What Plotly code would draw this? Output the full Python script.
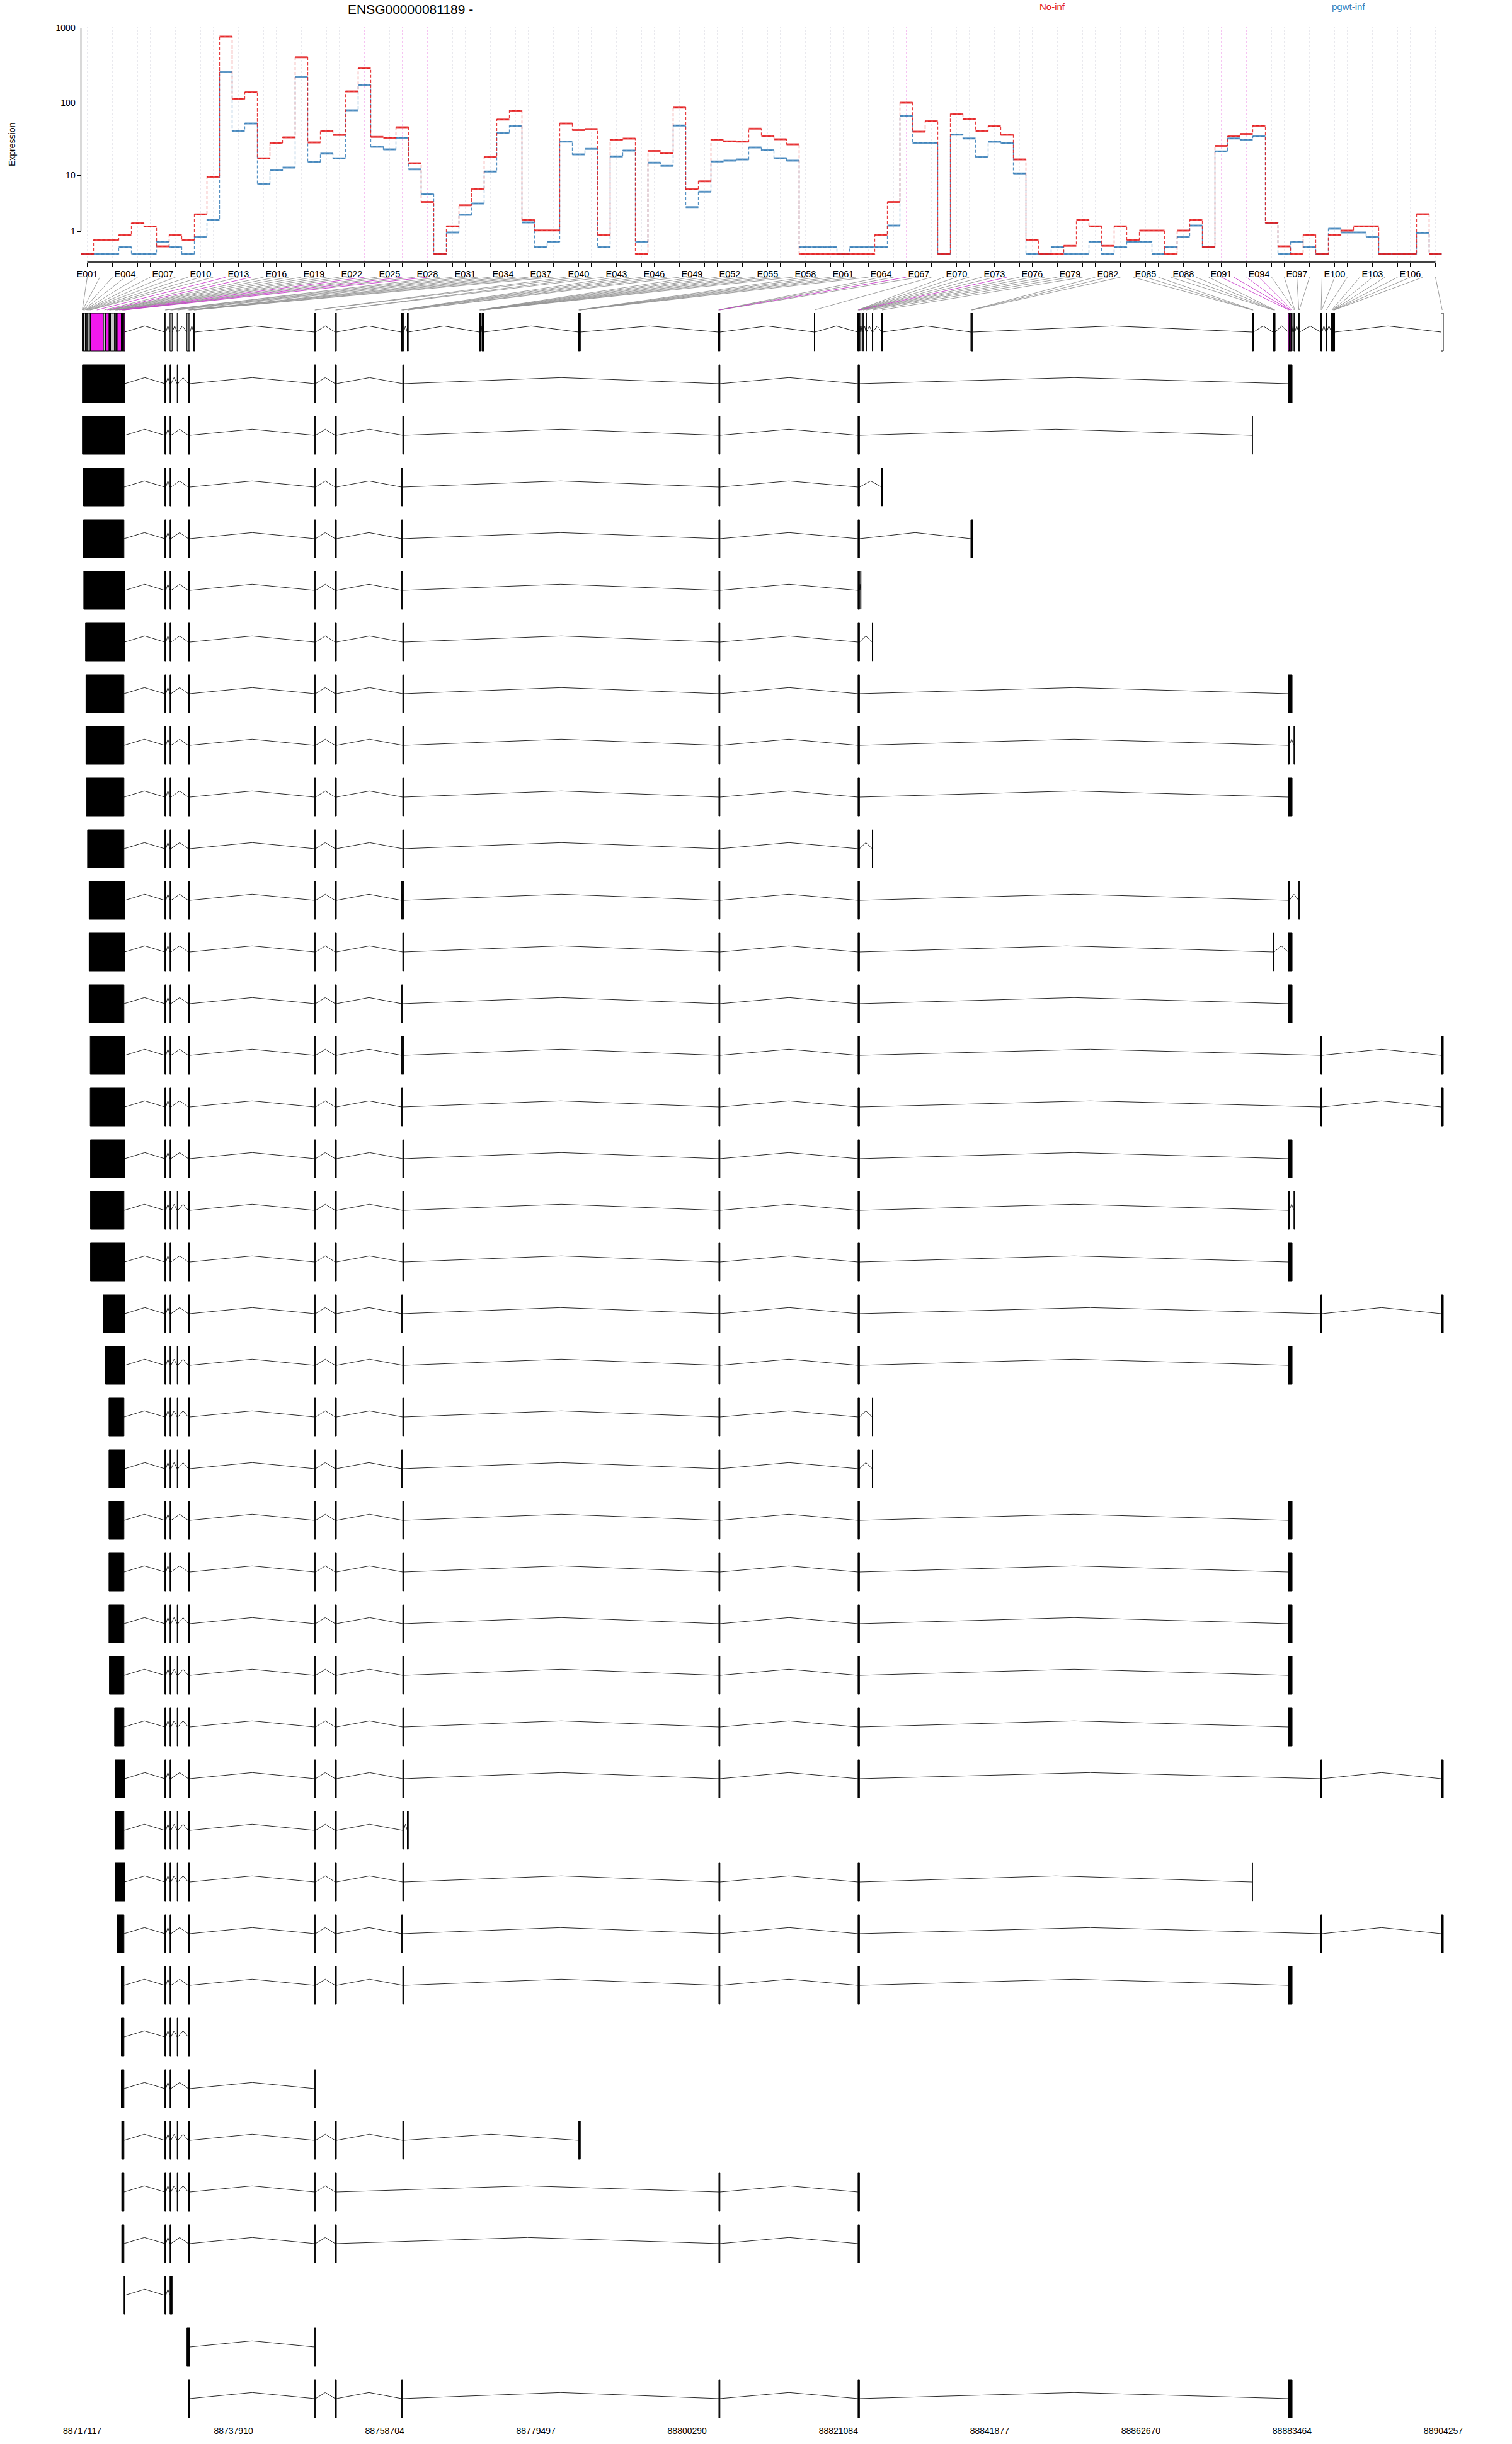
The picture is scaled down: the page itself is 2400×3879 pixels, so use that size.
import numpy as np
import plotly.graph_objects as go

# ---------------- data ----------------
gene_id = "ENSG00000081189"
strand = "-"
conditions = ["No-inf", "pgwt-inf"]
condition_colors = ["#E41A1C", "#377EB8"]

exon_ids = ["E%03d" % i for i in range(1, 109)]

bin_start = [
    88717117, 88717134, 88717204, 88717290, 88717325, 88717567, 88717628, 88717689, 88717845, 88718061,
    88718217, 88718252, 88720010, 88720322, 88720790, 88720850, 88720928, 88721015, 88721561, 88721621,
    88721751, 88721838, 88721924, 88722487, 88722548, 88722661, 88722730, 88722860, 88728473, 88728525,
    88729183, 88729322, 88730171, 88731513, 88731704, 88731903, 88732440, 88732492, 88749054, 88749123,
    88751895, 88751982, 88760973, 88761025, 88761146, 88761181, 88761813, 88761882, 88771714, 88771766,
    88771818, 88771870, 88772077, 88772129, 88772181, 88772233, 88772285, 88785348, 88785391, 88785434,
    88785478, 88785521, 88785564, 88804577, 88804612, 88804646, 88804768, 88817769, 88823755, 88823781,
    88823816, 88823850, 88823885, 88823920, 88823954, 88824127, 88824448, 88824881, 88825738, 88827037,
    88839295, 88839381, 88839468, 88877970, 88878039, 88878100, 88880829, 88880915, 88881002, 88881089,
    88882951, 88883081, 88883211, 88883341, 88883713, 88883800, 88884363, 88884424, 88887411, 88887498,
    88888105, 88888885, 88888972, 88889059, 88889145, 88889188, 88889232, 88903956,
]
bin_end = [
    88717134, 88717204, 88717290, 88717325, 88717567, 88717628, 88717689, 88717845, 88718061, 88718217,
    88718252, 88720010, 88720322, 88720790, 88720850, 88720928, 88721015, 88721561, 88721621, 88721751,
    88721838, 88721924, 88722487, 88722548, 88722661, 88722730, 88722860, 88722964, 88728525, 88728611,
    88729322, 88729486, 88730266, 88731704, 88731903, 88731929, 88732492, 88732561, 88749123, 88749192,
    88751982, 88752068, 88761025, 88761146, 88761181, 88761302, 88761882, 88761960, 88771766, 88771818,
    88771870, 88771922, 88772129, 88772181, 88772233, 88772285, 88772337, 88785391, 88785434, 88785478,
    88785521, 88785564, 88785608, 88804612, 88804646, 88804768, 88804802, 88817856, 88823781, 88823816,
    88823850, 88823885, 88823920, 88823954, 88823989, 88824197, 88824517, 88824950, 88825825, 88827124,
    88839381, 88839468, 88839555, 88878039, 88878100, 88878143, 88880915, 88881002, 88881089, 88881132,
    88883081, 88883211, 88883341, 88883471, 88883800, 88883843, 88884424, 88884493, 88887498, 88887568,
    88888192, 88888972, 88889059, 88889145, 88889188, 88889232, 88889318, 88904257,
]

no_inf = [
    0, 0.53, 0.53, 0.78, 1.55, 1.31, 0.26, 0.78, 0.53, 2.35,
    9.6, 770, 114, 139, 17.6, 28.7, 34.3, 410, 29.3, 42,
    37, 143, 290, 34.8, 34, 47, 15, 3.9, 0, 1.32,
    3.44, 6.3, 18.4, 60, 79, 1.83, 1.05, 1.05, 53, 43,
    44.7, 0.78, 31.9, 33, 0, 22.4, 20.7, 87, 6.2, 8.2,
    32.1, 30.3, 30, 45, 35.7, 32.3, 27.6, 0, 0, 0,
    0, 0, 0, 0.79, 3.9, 101, 41, 57, 0, 71,
    60.8, 42, 48.7, 37.2, 17, 0.54, 0, 0, 0.28, 1.83,
    1.32, 0.28, 1.32, 0.53, 1.04, 1.04, 0, 1.04, 1.83, 0.23,
    26.3, 35.3, 38.2, 49.3, 1.59, 0.26, 0, 0.79, 0, 0.79,
    1.04, 1.32, 1.32, 0, 0, 0, 2.37, 0,
]
pgwt_inf = [
    0, 0, 0, 0.23, 0, 0, 0.45, 0.23, 0, 0.68,
    1.83, 258, 42, 53, 7.5, 11.9, 13, 222, 15.7, 20.5,
    17.6, 80, 174, 25.5, 23.5, 34, 12.3, 5.2, 0, 0.93,
    2.3, 3.67, 11.4, 39.4, 49, 1.62, 0.23, 0.45, 30, 20,
    23.8, 0.23, 18.7, 22.6, 0.45, 15.3, 13.8, 49.6, 3.19, 5.7,
    15.9, 16.3, 17, 25, 22.9, 17.7, 16.3, 0.23, 0.23, 0.23,
    0, 0.23, 0.23, 0.23, 1.38, 67, 29, 29, 0, 37.4,
    33.2, 18.4, 29.9, 28.7, 10.7, 0, 0, 0.23, 0, 0,
    0.45, 0, 0.23, 0.45, 0.45, 0, 0.23, 0.68, 1.38, 0.23,
    22, 33.2, 32, 35.5, 1.59, 0, 0.45, 0.23, 0, 1.16,
    0.93, 0.93, 0.68, 0, 0, 0, 0.91, 0,
]

significant = ["E012", "E014", "E023", "E026", "E028", "E066", "E074",
               "E091", "E092", "E093", "E094"]

# transcript models: exons given as (first bin, last bin), 1-based bin numbers
transcripts = [
    [(2, 28), (29, 30), (31, 31), (33, 33), (35, 35), (39, 40), (41, 42), (46, 46), (66, 67), (70, 75), (91, 94)],
    [(2, 28), (29, 30), (31, 31), (35, 35), (39, 40), (41, 42), (46, 46), (66, 67), (70, 75), (84, 84)],
    [(4, 27), (29, 30), (31, 31), (35, 35), (39, 40), (41, 42), (44, 44), (66, 67), (70, 75), (80, 80)],
    [(4, 27), (29, 30), (31, 31), (35, 35), (39, 40), (41, 42), (44, 44), (66, 67), (70, 75), (81, 83)],
    [(5, 28), (29, 30), (31, 31), (35, 35), (39, 40), (41, 42), (44, 44), (66, 67), (70, 75), (76, 76)],
    [(6, 28), (29, 30), (31, 31), (35, 35), (39, 40), (41, 42), (46, 46), (66, 67), (70, 75), (79, 79)],
    [(7, 27), (29, 30), (31, 31), (35, 35), (39, 40), (41, 42), (46, 46), (66, 67), (70, 75), (91, 94)],
    [(7, 27), (29, 30), (31, 31), (35, 35), (39, 40), (41, 42), (46, 46), (66, 67), (70, 75), (91, 91), (95, 95)],
    [(8, 27), (29, 30), (31, 31), (35, 35), (39, 40), (41, 42), (46, 46), (66, 67), (70, 75), (91, 94)],
    [(9, 27), (29, 30), (31, 31), (35, 35), (39, 40), (41, 42), (46, 46), (66, 67), (70, 75), (79, 79)],
    [(10, 28), (29, 30), (31, 31), (35, 35), (39, 40), (41, 42), (44, 44), (46, 46), (66, 67), (70, 75), (91, 91), (97, 98)],
    [(10, 28), (29, 30), (31, 31), (35, 35), (39, 40), (41, 42), (46, 46), (66, 67), (70, 75), (88, 88), (91, 94)],
    [(10, 27), (29, 30), (31, 31), (35, 35), (39, 40), (41, 42), (44, 44), (66, 67), (70, 75), (91, 94)],
    [(11, 28), (29, 30), (31, 31), (35, 35), (39, 40), (41, 42), (44, 44), (46, 46), (66, 67), (70, 75), (99, 100), (108, 108)],
    [(11, 28), (29, 30), (31, 31), (35, 35), (39, 40), (41, 42), (44, 44), (66, 67), (70, 75), (99, 100), (108, 108)],
    [(12, 28), (29, 30), (31, 31), (35, 35), (39, 40), (41, 42), (46, 46), (66, 67), (70, 75), (91, 94)],
    [(12, 27), (29, 30), (31, 31), (33, 33), (35, 35), (39, 40), (41, 42), (46, 46), (66, 67), (70, 75), (91, 91), (95, 95)],
    [(12, 28), (29, 30), (31, 31), (35, 35), (39, 40), (41, 42), (46, 46), (66, 67), (70, 75), (91, 94)],
    [(13, 28), (29, 30), (31, 31), (35, 35), (39, 40), (41, 42), (44, 44), (66, 67), (70, 75), (99, 100), (108, 108)],
    [(14, 28), (29, 30), (31, 31), (33, 33), (35, 35), (39, 40), (41, 42), (46, 46), (66, 67), (70, 75), (91, 94)],
    [(15, 27), (29, 30), (31, 31), (33, 33), (35, 35), (39, 40), (41, 42), (46, 46), (66, 67), (70, 75), (79, 79)],
    [(15, 28), (29, 30), (31, 31), (33, 33), (35, 35), (39, 40), (41, 42), (44, 44), (66, 67), (70, 75), (79, 79)],
    [(15, 27), (29, 30), (31, 31), (35, 35), (39, 40), (41, 42), (46, 46), (66, 67), (70, 75), (91, 94)],
    [(15, 27), (29, 30), (31, 31), (35, 35), (39, 40), (41, 42), (46, 46), (66, 67), (70, 75), (91, 94)],
    [(15, 27), (29, 30), (31, 31), (33, 33), (35, 35), (39, 40), (41, 42), (46, 46), (66, 67), (70, 75), (91, 94)],
    [(16, 27), (29, 30), (31, 31), (33, 33), (35, 35), (39, 40), (41, 42), (46, 46), (66, 67), (70, 75), (91, 94)],
    [(19, 27), (29, 30), (31, 31), (33, 33), (35, 35), (39, 40), (41, 42), (46, 46), (66, 67), (70, 75), (91, 94)],
    [(20, 28), (29, 30), (31, 31), (35, 35), (39, 40), (41, 42), (46, 46), (66, 67), (70, 75), (99, 100), (108, 108)],
    [(20, 27), (29, 30), (31, 31), (33, 33), (35, 35), (39, 40), (41, 42), (46, 46), (47, 48)],
    [(20, 28), (29, 30), (31, 31), (33, 33), (35, 35), (39, 40), (41, 42), (46, 46), (66, 67), (70, 75), (84, 84)],
    [(23, 27), (29, 30), (31, 31), (35, 35), (39, 40), (41, 42), (44, 44), (66, 67), (70, 75), (99, 100), (108, 108)],
    [(24, 27), (29, 30), (31, 31), (35, 35), (39, 40), (41, 42), (46, 46), (66, 67), (70, 75), (91, 94)],
    [(24, 27), (29, 30), (31, 31), (33, 33), (35, 35)],
    [(24, 27), (29, 30), (31, 31), (35, 35), (39, 40)],
    [(25, 27), (29, 30), (31, 31), (33, 33), (35, 35), (39, 40), (41, 42), (46, 46), (58, 63)],
    [(25, 27), (29, 30), (31, 31), (33, 33), (35, 35), (39, 40), (41, 42), (66, 67), (70, 75)],
    [(25, 27), (29, 30), (31, 31), (35, 35), (39, 40), (41, 42), (66, 67), (70, 75)],
    [(28, 28), (29, 30), (31, 32)],
    [(34, 35), (39, 40)],
    [(35, 35), (39, 40), (41, 42), (44, 44), (66, 67), (70, 75), (91, 94)],
]

genome_ticks = [88717117, 88737910, 88758704, 88779497, 88800290,
                88821084, 88841877, 88862670, 88883464, 88904257]
expression_ticks = [1, 10, 100, 1000]

# ---------------- page geometry ----------------
W, H = 2400, 3879
FONT = "Liberation Sans, Arial, Helvetica, sans-serif"


def fx(p):
    return p / W


def fy(p):
    return 1 - p / H


n_bins = len(exon_ids)

# expression panel: bin i occupies [i-0.5, i+0.5]
EXP_PX = (128.5, 2288.5)
EXP_RANGE_Y = [-0.03, 3.03]
EXP_PY_TOP = 403 - 119.5 * EXP_RANGE_Y[1]
EXP_PY_BOT = 403 - 119.5 * EXP_RANGE_Y[0]
EXON_AXIS_PY = 416
x1_dom = [fx(EXP_PX[0]), fx(EXP_PX[1])]
x1_range = [0.5, n_bins + 0.5]

# genomic panel: gene model on row 0, transcripts on rows 1..N
G0, G1 = genome_ticks[0], genome_ticks[-1]
GPX0, GPX1 = 130.5, 2291.0
bp_per_px = (G1 - G0) / (GPX1 - GPX0)
PAD = 3
x2_range = [G0 - PAD * bp_per_px, G1 + PAD * bp_per_px]
x2_dom = [fx(GPX0 - PAD), fx(GPX1 + PAD)]
ROW0_PY, ROW_PY = 527, 82
y2_range = [40.5, -1.1]
y2_dom = [fy(ROW0_PY + ROW_PY * y2_range[0]), fy(ROW0_PY + ROW_PY * y2_range[1])]

BOX_H = 0.366
PEAK = 0.118
CONN_TOP, CONN_BOT = -1.061, -0.427

MAGENTA = "#F219ED"
GREY_FILL = "#C8C8C8"

sig_set = set(significant)
idx = np.arange(1, n_bins + 1)
starts = np.array(bin_start, dtype=float)
ends = np.array(bin_end, dtype=float)
mids = (starts + ends) / 2

fig = go.Figure()

# ---------------- expression panel ----------------
def rgba(hexcol, a):
    h = hexcol.lstrip("#")
    return "rgba(%d,%d,%d,%.2f)" % (int(h[0:2], 16), int(h[2:4], 16), int(h[4:6], 16), a)


for counts, col in [(pgwt_inf, condition_colors[1]), (no_inf, condition_colors[0])]:
    ly = np.log10(np.array(counts, dtype=float) + 1)
    sx, sy, hx, hy = [], [], [], []
    for i, v in zip(idx, ly):
        sx += [i - 0.5, i + 0.5]
        sy += [v, v]
        hx += [i - 0.5, i + 0.5, None]
        hy += [v, v, None]
    fig.add_trace(go.Scatter(x=sx, y=sy, mode="lines", xaxis="x", yaxis="y",
                             line=dict(color=rgba(col, 0.85), width=1.3, dash="5px,3px"),
                             hoverinfo="skip"))
    fig.add_trace(go.Scatter(x=hx, y=hy, mode="lines", xaxis="x", yaxis="y",
                             line=dict(color=rgba(col, 0.8), width=3),
                             hoverinfo="skip"))

shapes = []
# faint per-bin guide lines
for i, eid in zip(idx, exon_ids):
    shapes.append(dict(type="line", xref="x", yref="paper", x0=i, x1=i,
                       y0=fy(EXON_AXIS_PY), y1=fy(43),
                       line=dict(color="#F6C4F2" if eid in sig_set else "#E9E9EE",
                                 width=1, dash="dot"),
                       layer="below"))
# left axis line (from lowest to highest tick)
shapes.append(dict(type="line", xref="paper", yref="y", x0=x1_dom[0], x1=x1_dom[0],
                   y0=np.log10(expression_ticks[0] + 1), y1=np.log10(expression_ticks[-1] + 1),
                   line=dict(color="black", width=1.3)))
# exon axis line
shapes.append(dict(type="line", xref="x", yref="paper", x0=1, x1=n_bins,
                   y0=fy(EXON_AXIS_PY), y1=fy(EXON_AXIS_PY),
                   line=dict(color="black", width=1.6)))
# genomic axis line
shapes.append(dict(type="line", xref="x2", yref="y2", x0=G0, x1=G1,
                   y0=y2_range[0], y1=y2_range[0],
                   line=dict(color="#222222", width=2)))

# ---------------- connectors from exon ticks to gene model ----------------
def exon_tick_to_genomic(i):
    paper = x1_dom[0] + (i - x1_range[0]) / (x1_range[1] - x1_range[0]) * (x1_dom[1] - x1_dom[0])
    return x2_range[0] + (paper - x2_dom[0]) / (x2_dom[1] - x2_dom[0]) * (x2_range[1] - x2_range[0])


for want_sig, col in [(False, "#929292"), (True, "#C83CCB")]:
    cx, cy = [], []
    for i, eid, m in zip(idx, exon_ids, mids):
        if (eid in sig_set) != want_sig:
            continue
        cx += [exon_tick_to_genomic(i), m, None]
        cy += [CONN_TOP, CONN_BOT, None]
    fig.add_trace(go.Scatter(x=cx, y=cy, mode="lines", xaxis="x2", yaxis="y2",
                             line=dict(color=col, width=0.9), hoverinfo="skip"))


def box(x0, x1, yc):
    return [x0, x1, x1, x0, x0, None], [yc - BOX_H, yc - BOX_H, yc + BOX_H, yc + BOX_H, yc - BOX_H, None]


def chevrons(segs, yc):
    xs, ys = [], []
    for (a0, a1), (b0, b1) in zip(segs[:-1], segs[1:]):
        if b0 > a1:
            xs += [a1, (a1 + b0) / 2, b0, None]
            ys += [yc, yc - PEAK, yc, None]
    return xs, ys


# ---------------- flattened gene model (row 0) ----------------
fills = {}
for eid, s, e, a, b in zip(exon_ids, starts, ends, no_inf, pgwt_inf):
    if eid in sig_set:
        key = MAGENTA
    elif a == 0 and b == 0:
        key = "#FFFFFF"
    else:
        key = GREY_FILL
    bx, by = box(s, e, 0)
    fx_, fy_ = fills.setdefault(key, ([], []))
    fx_ += bx
    fy_ += by

gx, gy = chevrons(list(zip(starts, ends)), 0)
fig.add_trace(go.Scatter(x=gx, y=gy, mode="lines", xaxis="x2", yaxis="y2",
                         line=dict(color="#222222", width=1), hoverinfo="skip"))
for key, (bx, by) in fills.items():
    fig.add_trace(go.Scatter(x=bx, y=by, mode="lines", fill="toself", fillcolor=key,
                             xaxis="x2", yaxis="y2",
                             line=dict(color="black", width=1), hoverinfo="skip"))

# ---------------- transcripts ----------------
tx_bx, tx_by, tx_ix, tx_iy = [], [], [], []
for row, exons in enumerate(transcripts, start=1):
    segs = [(bin_start[a - 1], bin_end[b - 1]) for a, b in exons]
    for s, e in segs:
        bx, by = box(s, e, row)
        tx_bx += bx
        tx_by += by
    ix, iy = chevrons(segs, row)
    tx_ix += ix
    tx_iy += iy

fig.add_trace(go.Scatter(x=tx_ix, y=tx_iy, mode="lines", xaxis="x2", yaxis="y2",
                         line=dict(color="#2A2A2A", width=1), hoverinfo="skip"))
fig.add_trace(go.Scatter(x=tx_bx, y=tx_by, mode="lines", fill="toself", fillcolor="black",
                         xaxis="x2", yaxis="y2",
                         line=dict(color="black", width=1), hoverinfo="skip"))

# ---------------- text ----------------
annotations = [
    dict(text=gene_id + " " + strand, x=fx(651), y=fy(15), xref="paper", yref="paper",
         showarrow=False, font=dict(family=FONT, size=21, color="black"),
         xanchor="center", yanchor="middle"),
    dict(text=conditions[0], x=fx(1670), y=fy(10), xref="paper", yref="paper",
         showarrow=False, font=dict(family=FONT, size=15, color=condition_colors[0]),
         xanchor="center", yanchor="middle"),
    dict(text=conditions[1], x=fx(2140), y=fy(10), xref="paper", yref="paper",
         showarrow=False, font=dict(family=FONT, size=15, color=condition_colors[1]),
         xanchor="center", yanchor="middle"),
    dict(text="Expression", x=fx(19), y=fy(230), xref="paper", yref="paper",
         showarrow=False, textangle=-90, font=dict(family=FONT, size=14, color="black"),
         xanchor="center", yanchor="middle"),
]

fig.update_layout(
    width=W, height=H,
    margin=dict(l=0, r=0, t=0, b=0, pad=0, autoexpand=False),
    paper_bgcolor="white", plot_bgcolor="white",
    showlegend=False,
    shapes=shapes,
    annotations=annotations,
    xaxis=dict(domain=x1_dom, range=x1_range, anchor="free", position=fy(EXON_AXIS_PY),
               automargin=False,
               tickmode="array", tickvals=list(idx),
               ticktext=[eid if (i - 1) % 3 == 0 else "" for i, eid in zip(idx, exon_ids)],
               ticks="outside", ticklen=6, tickwidth=1, tickcolor="black",
               tickfont=dict(family=FONT, size=14.5, color="black"), tickangle=0,
               showgrid=False, zeroline=False, showline=False),
    yaxis=dict(domain=[fy(EXP_PY_BOT), fy(EXP_PY_TOP)], range=EXP_RANGE_Y, anchor="x",
               automargin=False,
               tickmode="array", tickvals=list(np.log10(np.array(expression_ticks) + 1)),
               ticktext=[str(t) for t in expression_ticks],
               ticks="outside", ticklen=5, tickwidth=1, tickcolor="black",
               tickfont=dict(family=FONT, size=14, color="black"),
               showgrid=False, zeroline=False, showline=False),
    xaxis2=dict(domain=x2_dom, range=x2_range, anchor="y2", automargin=False,
                tickmode="array", tickvals=genome_ticks, ticktext=[str(t) for t in genome_ticks],
                ticks="", tickfont=dict(family=FONT, size=14, color="black"), tickangle=0,
                showgrid=False, zeroline=False, showline=False),
    yaxis2=dict(domain=y2_dom, range=y2_range, anchor="x2", visible=False, automargin=False,
                showgrid=False, zeroline=False),
)

fig.write_html("out.html")
